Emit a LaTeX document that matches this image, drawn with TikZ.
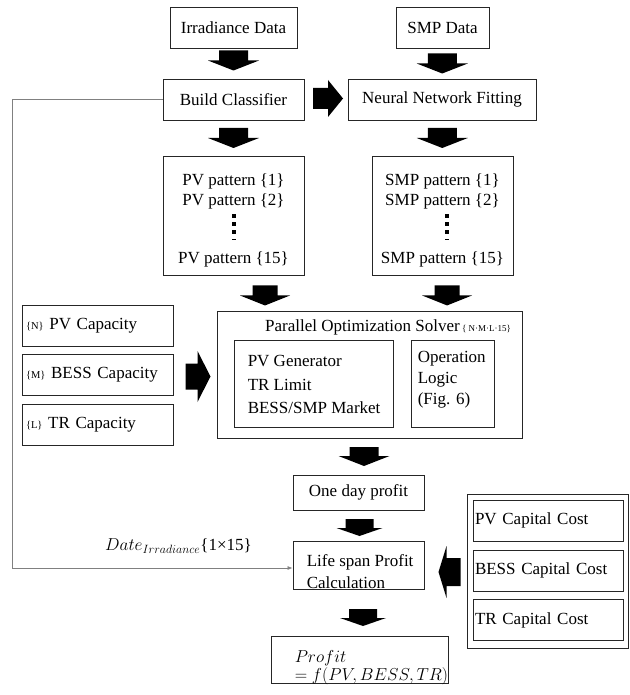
\documentclass[tikz,border=0pt]{standalone}
\usepackage{fontspec}
\setmainfont{Liberation Serif}
\usetikzlibrary{calc,arrows.meta}
\tikzset{
  every node/.style={font=\fontsize{17}{20}\selectfont},
  box/.style={draw=black!85, line width=0.9pt, inner sep=0pt, align=center},
  txt/.style={inner sep=0pt, align=left},
  ctxt/.style={inner sep=0pt, align=center},
  conn/.style={draw=black!50, line width=0.7pt},
  blk/.style={fill=black},
}
\newcommand\blkdown[5]{\fill[blk,shift={(#1)}] (-#4/2,-#2/2) -- (#4/2,-#2/2) -- (#4/2,#2/2-#5) -- (#3/2,#2/2-#5) -- (0,#2/2) -- (-#3/2,#2/2-#5) -- (-#4/2,#2/2-#5) -- cycle;}
\newcommand\blkright[5]{\fill[blk,shift={(#1)}] (-#2/2,-#4/2) -- (#2/2-#5,-#4/2) -- (#2/2-#5,-#3/2) -- (#2/2,0) -- (#2/2-#5,#3/2) -- (#2/2-#5,#4/2) -- (-#2/2,#4/2) -- cycle;}
\newcommand\blkleft[5]{\fill[blk,shift={(#1)}] (#2/2,-#4/2) -- (-#2/2+#5,-#4/2) -- (-#2/2+#5,-#3/2) -- (-#2/2,0) -- (-#2/2+#5,#3/2) -- (-#2/2+#5,#4/2) -- (#2/2,#4/2) -- cycle;}
\newcommand\smallidx[1]{{\fontsize{10.5}{12}\selectfont\{#1\}}}
\begin{document}
\begin{tikzpicture}[x=1pt,y=-1pt]
\useasboundingbox (0,0) rectangle (629,695);
% top rows
\node[box, minimum width=127pt, minimum height=41pt] (irr) at (233.5,27.5) {Irradiance Data};
\node[box, minimum width=93pt, minimum height=41pt] (smpd) at (442.5,27.5) {SMP Data};
\node[box, minimum width=141pt, minimum height=41pt] (bc) at (233.5,99.5) {Build Classifier};
\node[box, minimum width=188pt, minimum height=41pt] (nn) at (442,99.5) {Neural Network Fitting};
% pattern boxes
\node[box, minimum width=141pt, minimum height=119pt] (pvp) at (233.5,215.5) {};
\node[ctxt] (pvpt) at ($(pvp.center)+(0,5)$) {PV pattern \{1\}\\PV pattern \{2\}\\[38pt]PV pattern \{15\}};
\node[box, minimum width=141pt, minimum height=119pt] (smpp) at (442.5,215.5) {};
\node[ctxt] (smppt) at ($(smpp.center)+(0,5)$) {SMP pattern \{1\}\\SMP pattern \{2\}\\[38pt]SMP pattern \{15\}};
\foreach \dy in {0,8.3,16.6} {
  \fill ($(pvp.center)+(-1.5,\dy-2)$) rectangle ++(4,4);
  \fill ($(smpp.center)+(2,\dy-2)$) rectangle ++(4,4);
}
\fill ($(pvp.center)+(-1.5,23.5)$) rectangle ++(4,1);
\fill ($(smpp.center)+(2,23.5)$) rectangle ++(4,1);
% solver
\node[box, minimum width=305pt, minimum height=127pt] (solver) at (369.5,374.5) {};
\node[inner sep=0pt] (soltitle) at (362.5,327) {Parallel Optimization Solver};
\node[anchor=base west, inner sep=0pt, font=\fontsize{9}{10}\selectfont] (solidx) at ($(soltitle.base east)+(2,0)$) {\{ N·M·L·15\}};
\node[box, minimum width=159pt, minimum height=87pt] (in1) at (313.5,383.5) {};
\node[txt, anchor=west, font=\fontsize{17}{23.5}\selectfont] (in1t) at ($(in1.west)+(14,1)$) {PV Generator\\TR Limit\\BESS/SMP Market};
\node[box, minimum width=83pt, minimum height=87pt] (in2) at (452.5,383.5) {};
\node[txt, anchor=north west, font=\fontsize{17}{21}\selectfont] (in2t) at ($(in2.north west)+(7,11)$) {Operation\\Logic\\(Fig. 6)};
% capacities
\node[box, minimum height=41pt, text width=143pt, inner xsep=4pt, align=left] (cap1) at (97.5,325.5) {\smallidx{N} PV Capacity};
\node[box, minimum height=41pt, text width=143pt, inner xsep=4pt, align=left] (cap2) at (97.5,374.5) {\smallidx{M} BESS Capacity};
\node[box, minimum height=41pt, text width=143pt, inner xsep=4pt, align=left] (cap3) at (97.5,424.5) {\smallidx{L} TR Capacity};
% lower chain
\node[box, minimum width=131pt, minimum height=35pt] (one) at (358.5,492.5) {One day profit};
\node[box, minimum width=131pt, minimum height=48pt] (life) at (358.5,565) {};
\node[txt, anchor=west, font=\fontsize{17}{22}\selectfont] (lifet) at ($(life.west)+(14,7)$) {Life span Profit\\Calculation};
\node[box, minimum width=177pt, minimum height=47pt] (prof) at (359.5,659.5) {};
\node[txt, anchor=west, font=\fontsize{17}{18}\selectfont] (proft) at ($(prof.west)+(24,8)$) {$Profit$\\$= f(PV, BESS, TR)$};
% capital costs
\node[box, minimum width=161pt, minimum height=154pt] (group) at (547.5,571) {};
\node[box, minimum height=41pt, text width=146pt, inner xsep=2pt, align=left] (cc1) at (548,520.5) {PV Capital Cost};
\node[box, minimum height=41pt, text width=146pt, inner xsep=2pt, align=left] (cc2) at (548,570.5) {BESS Capital Cost};
\node[box, minimum height=41pt, text width=146pt, inner xsep=2pt, align=left] (cc3) at (548,620) {TR Capital Cost};
% date connector
\coordinate (lft) at (12,99.5);
\draw[conn, -{Latex[length=5pt,width=4pt]}] (bc.west) -- (lft) |- ($(life.west)+(0,3)$);
\node[inner sep=0pt, anchor=east] (date) at (252,546) {$Date_{Irradiance}$\{1×15\}};
% block arrows
\coordinate (a1) at ($(irr.south)!0.5!(bc.north)+(0,-3)$);
\coordinate (a2) at ($(smpd.south)!0.5!(nn.north)$);
\coordinate (a3) at ($(bc.east)!0.5!(nn.west)+(2,-1)$);
\coordinate (a4) at ($(bc.south)!0.5!(pvp.north)$);
\coordinate (a5) at ($(nn.south)!0.5!(smpp.north)$);
\coordinate (a6) at ($(pvp.south)+(31.5,20)$);
\coordinate (a7) at ($(smpp.south)+(4.5,20)$);
\coordinate (a8) at ($(cap2.east)!0.5!(solver.west)+(3,2)$);
\coordinate (a9) at ($(solver.south)!0.5!(one.north)$);
\coordinate (a10) at ($(one.south)!0.5!(life.north)+(1,2)$);
\coordinate (a11) at ($(life.south)!0.5!(prof.north)+(4,5)$);
\coordinate (a12) at ($(life.east)!0.5!(group.west)+(4,4)$);
\blkdown{a1}{20}{51}{29}{10}
\blkdown{a2}{20}{51}{29}{10}
\blkright{a3}{30}{37}{21}{15}
\blkdown{a4}{20}{51}{29}{10}
\blkdown{a5}{20}{51}{29}{10}
\blkdown{a6}{20}{50}{25}{10}
\blkdown{a7}{20}{50}{25}{10}
\blkright{a8}{25}{51}{26}{13}
\blkdown{a9}{19}{51}{29}{10}
\blkdown{a10}{17}{46}{28}{8}
\blkdown{a11}{17}{46}{28}{8}
\blkleft{a12}{22}{52}{28}{8}
\end{tikzpicture}
\end{document}
